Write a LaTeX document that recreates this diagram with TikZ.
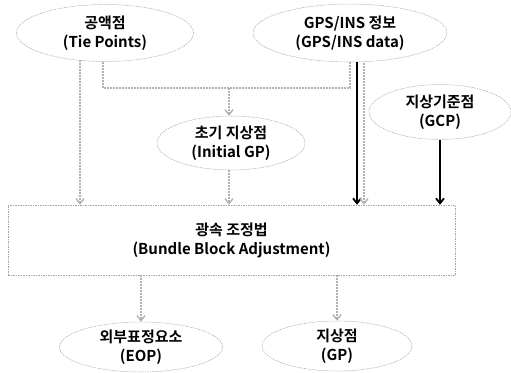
\documentclass[tikz,border=0pt]{standalone}
\usepackage{fontspec}
\newfontfamily\kr{Noto Sans CJK KR}[BoldFont={Noto Sans CJK KR Bold}]
\usetikzlibrary{shapes.geometric,arrows.meta}
\tikzset{
  ell/.style={ellipse, draw=gray!70, dashed, dash pattern=on 1.5pt off 1pt, line width=0.5pt, inner sep=0pt, align=center, font=\kr\bfseries\fontsize{15}{19}\selectfont},
  blk/.style={rectangle, draw=gray!70, dash pattern=on 1.5pt off 1pt, line width=0.5pt, inner sep=0pt, align=center, font=\kr\bfseries\fontsize{15}{19}\selectfont},
  garr/.style={draw=gray!60, line width=1.4pt, dash pattern=on 2pt off 1pt, -{Straight Barb[length=5pt,width=8pt]}},
  gline/.style={draw=gray!60, line width=1.4pt, dash pattern=on 2pt off 1pt},
  karr/.style={draw=black, line width=1.8pt, -{Straight Barb[length=5pt,width=8pt]}}
}
\begin{document}
\begin{tikzpicture}[x=1pt,y=-1pt]
\useasboundingbox (0,0) rectangle (511,372);
\node[ell, minimum width=177pt, minimum height=57pt] (tie) at (105,33) {공액점\\(Tie Points)};
\node[ell, minimum width=194pt, minimum height=58pt] (gps) at (350,33) {GPS/INS 정보\\(GPS/INS data)};
\node[ell, minimum width=142pt, minimum height=55pt] (gcp) at (440,112) {지상기준점\\(GCP)};
\node[ell, minimum width=148pt, minimum height=54pt] (igp) at (231,143) {초기 지상점\\(Initial GP)};
\node[blk, minimum width=447pt, minimum height=70pt] (bba) at (231.5,240) {광속 조정법\\(Bundle Block Adjustment)};
\node[ell, minimum width=163pt, minimum height=50pt] (eop) at (141,347) {외부표정요소\\(EOP)};
\node[ell, minimum width=150pt, minimum height=50pt] (gp) at (337,346) {지상점\\(GP)};
\coordinate (j) at (229,88);
% tie points -> box
\draw[garr] ([xshift=-25pt,yshift=1.5pt]tie.south) -- ([xshift=-25pt]tie.south |- bba.north);
% merge line from tie points and gps
\draw[gline] ([xshift=-2pt]tie.south) |- (j);
\draw[gline] (gps.south) |- (j);
\draw[garr] (j) -- (igp.north -| j);
\draw[garr] (igp.south -| j) -- (bba.north -| j);
% gps -> box
\draw[karr] ([xshift=7pt]gps.south) -- ([xshift=7pt]gps.south |- bba.north);
\draw[garr] ([xshift=14pt,yshift=-0.5pt]gps.south) -- ([xshift=14pt]gps.south |- bba.north);
% gcp -> box
\draw[karr] (gcp.south) -- (gcp.south |- bba.north);
% box -> outputs
\draw[garr] (bba.south -| eop.north) -- (eop.north);
\draw[garr] (bba.south -| gp.north) -- (gp.north);
\end{tikzpicture}
\end{document}
